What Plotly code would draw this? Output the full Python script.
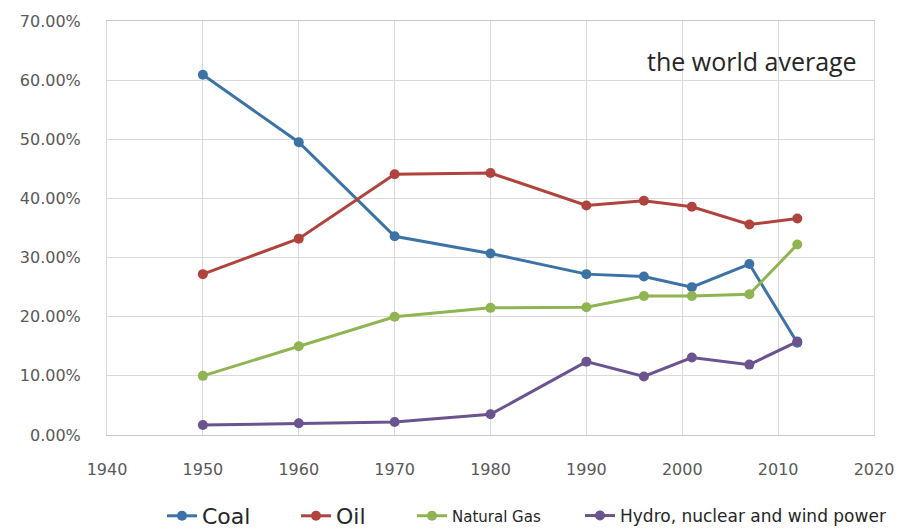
import plotly.graph_objects as go

# Share of world primary energy consumption by source
years = [1950, 1960, 1970, 1980, 1990, 1996, 2001, 2007, 2012]
coal = [0.609, 0.495, 0.336, 0.307, 0.272, 0.268, 0.250, 0.289, 0.156]
oil = [0.272, 0.332, 0.441, 0.443, 0.388, 0.396, 0.386, 0.356, 0.366]
natural_gas = [0.100, 0.150, 0.200, 0.215, 0.216, 0.235, 0.235, 0.238, 0.322]
hydro_nuclear_wind = [0.017, 0.020, 0.022, 0.035, 0.124, 0.099, 0.131, 0.119, 0.158]

series = [
    ("Coal", coal, "#3d72a6", "legend", 22),
    ("Oil", oil, "#b0433e", "legend2", 22),
    ("Natural Gas", natural_gas, "#91b452", "legend3", 15),
    ("Hydro, nuclear and wind power", hydro_nuclear_wind, "#6a538f", "legend4", 17),
]

fig = go.Figure()
for name, vals, color, leg, _ in series:
    fig.add_trace(go.Scatter(
        x=years, y=vals, name=name, mode="lines+markers",
        line=dict(color=color, width=3),
        marker=dict(color=color, size=10, symbol="circle"),
        legend=leg,
    ))

grid = "#d9d9d9"
tick_font = dict(family="DejaVu Sans", size=16, color="#595959")

# one legend box per series; value is where the entry's text begins (px)
legend_text_x = {"legend": 202, "legend2": 336, "legend3": 452, "legend4": 620}
legend_cfg = {}
for name, _, _, leg, fsize in series:
    legend_cfg[leg] = dict(
        xref="container", yref="container",
        x=(legend_text_x[leg] - 40) / 906, y=1 - 516 / 532,
        xanchor="left", yanchor="middle",
        orientation="h", bgcolor="rgba(0,0,0,0)",
        font=dict(family="DejaVu Sans", size=fsize, color="#262626"),
    )

fig.update_layout(
    width=906, height=532,
    margin=dict(l=107, r=28, t=18, b=97),
    paper_bgcolor="white", plot_bgcolor="white",
    showlegend=True,
    xaxis=dict(
        range=[1940, 2020], dtick=10, tick0=1940,
        showgrid=True, gridcolor=grid, gridwidth=1,
        showline=True, linecolor="#c8c8c8", linewidth=1, mirror=True,
        zeroline=False, ticks="", tickfont=tick_font, ticklabelstandoff=20,
    ),
    yaxis=dict(
        range=[0, 0.7], dtick=0.1, tickformat=".2%",
        showgrid=True, gridcolor=grid, gridwidth=1,
        showline=True, linecolor=grid, linewidth=1, mirror=True,
        zeroline=False, ticks="", tickfont=tick_font, ticklabelstandoff=22,
    ),
    annotations=[dict(
        x=2007.3, y=0.633, xref="x", yref="y",
        text="the world average", showarrow=False,
        xanchor="center", yanchor="middle",
        font=dict(family="Open Sans", size=25, color="#262626"),
    )],
    **legend_cfg,
)

fig.write_html("out.html")
